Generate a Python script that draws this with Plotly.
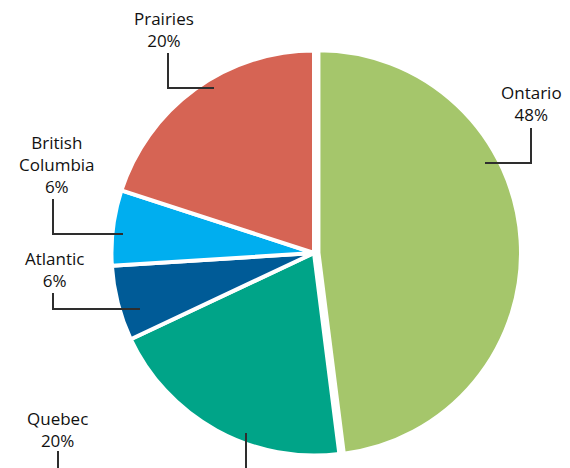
import plotly.graph_objects as go

W, H = 570, 468
OFF = 8  # page body margin in the browser

regions = ["Ontario", "Quebec", "Atlantic", "British Columbia", "Prairies"]
shares = [48, 20, 6, 6, 20]
colors = ["#A5C66B", "#00A488", "#005B97", "#00AEEF", "#D66454"]
pulls = [0.022, 0, 0, 0, 0]

def px(x):
    return (x - OFF) / W

def py(y):
    return 1 - (y - OFF) / H

CX, CY, HALF = 314, 253, 207

fig = go.Figure(go.Pie(
    labels=regions,
    values=shares,
    sort=False,
    direction="clockwise",
    rotation=0,
    pull=pulls,
    marker=dict(colors=colors, line=dict(color="white", width=4)),
    textinfo="none",
    hoverinfo="label+percent",
    domain=dict(x=[px(CX - HALF), px(CX + HALF)], y=[py(CY + HALF), py(CY - HALF)]),
    showlegend=False,
))

# label text: (name lines, center x, visual center y) in picture pixels
label_layout = {
    "Prairies": (["Prairies"], 164, 29.5),
    "Ontario": (["Ontario"], 531, 103.5),
    "British Columbia": (["British", "Columbia"], 57, 164.5),
    "Atlantic": (["Atlantic"], 54, 269.5),
    "Quebec": (["Quebec"], 57, 429.5),
}
leaders = {
    "Prairies": [(168, 53), (168, 88), (214, 88)],
    "Ontario": [(531, 128), (531, 163), (485, 163)],
    "British Columbia": [(53, 199), (53, 234), (123, 234)],
    "Atlantic": [(53, 293), (53, 309), (140, 309)],
    "Quebec": [(58, 451), (58, 490), (246, 490), (246, 433)],
}

FS = 17
annotations = []
shapes = []
for name, val in zip(regions, shares):
    lines, cx, cy = label_layout[name]
    text = "<br>".join(lines + [f"{val}%"])
    annotations.append(dict(
        x=px(cx), y=py(cy), xref="paper", yref="paper",
        text=text, showarrow=False, xanchor="center", yanchor="middle",
        align="center",
        font=dict(family="Open Sans", size=FS, color="#111111", weight=500),
    ))
    pts = leaders[name]
    path = "M " + " L ".join(f"{px(x)},{py(y)}" for x, y in pts)
    shapes.append(dict(type="path", path=path, xref="paper", yref="paper",
                       line=dict(color="#2e2e2e", width=2)))

fig.update_layout(
    width=W, height=H,
    margin=dict(l=0, r=0, t=0, b=0),
    paper_bgcolor="white",
    plot_bgcolor="white",
    annotations=annotations,
    shapes=shapes,
)

fig.write_html("out.html")
